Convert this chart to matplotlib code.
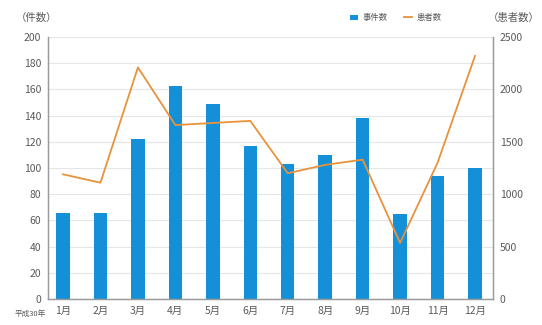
import matplotlib.pyplot as plt
from matplotlib.lines import Line2D
from matplotlib.patches import Patch

plt.rcParams['font.family'] = ['Noto Sans CJK JP', 'DejaVu Sans']

# data
months = ['1月', '2月', '3月', '4月', '5月', '6月', '7月', '8月', '9月', '10月', '11月', '12月']
cases = [66, 66, 122, 163, 149, 117, 103, 110, 138, 65, 94, 100]
patients = [1190, 1110, 2210, 1660, 1680, 1700, 1200, 1280, 1330, 535, 1300, 2320]
left_ticks = list(range(0, 201, 20))
right_ticks = list(range(0, 2501, 500))

bar_color = '#1490d8'
line_color = '#e8923c'
text_color = '#5a5a5a'
spine_color = '#9a9a9a'

fig = plt.figure(figsize=(5.42, 3.25), dpi=100)
ax = fig.add_axes([0.0886, 0.08, 0.821, 0.806])
ax2 = ax.twinx()

x = list(range(len(months)))
ax.bar(x, cases, width=0.36, color=bar_color, zorder=2)
ax2.plot(x, patients, color=line_color, linewidth=1.3, zorder=3)

ax.set_ylim(0, 200)
ax2.set_ylim(0, 2500)
ax.set_xlim(-0.4, 11.48)
ax.set_yticks(left_ticks)
ax2.set_yticks(right_ticks)
ax.set_xticks(x)
ax.set_xticklabels(months)

ax.grid(axis='y', color='#e6e6e6', linewidth=0.8, zorder=0)
ax.set_axisbelow(True)

for a in (ax, ax2):
    a.tick_params(length=0, labelsize=7.5, colors=text_color, pad=5)
    a.spines['top'].set_visible(False)
    for s in ('left', 'right', 'bottom'):
        a.spines[s].set_color(spine_color)
        a.spines[s].set_linewidth(0.9)

fig.text(0.085, 0.033, '平成30年', fontsize=5.5, color=text_color, ha='right', va='center')
fig.text(0.03, 0.945, '（件数）', fontsize=7.5, color=text_color, ha='left', va='center')
fig.text(0.995, 0.945, '（患者数）', fontsize=7.5, color=text_color, ha='right', va='center')

handles = [Patch(facecolor=bar_color, edgecolor='none'),
           Line2D([0], [0], color=line_color, linewidth=1.3)]
fig.legend(handles, ['事件数', '患者数'], loc='center', bbox_to_anchor=(0.73, 0.945),
           ncol=2, frameon=False, fontsize=6, handlelength=1.0, handleheight=0.7,
           columnspacing=2.0, handletextpad=0.5, labelcolor=text_color)

fig.savefig('out.png', dpi=100, facecolor='white')
